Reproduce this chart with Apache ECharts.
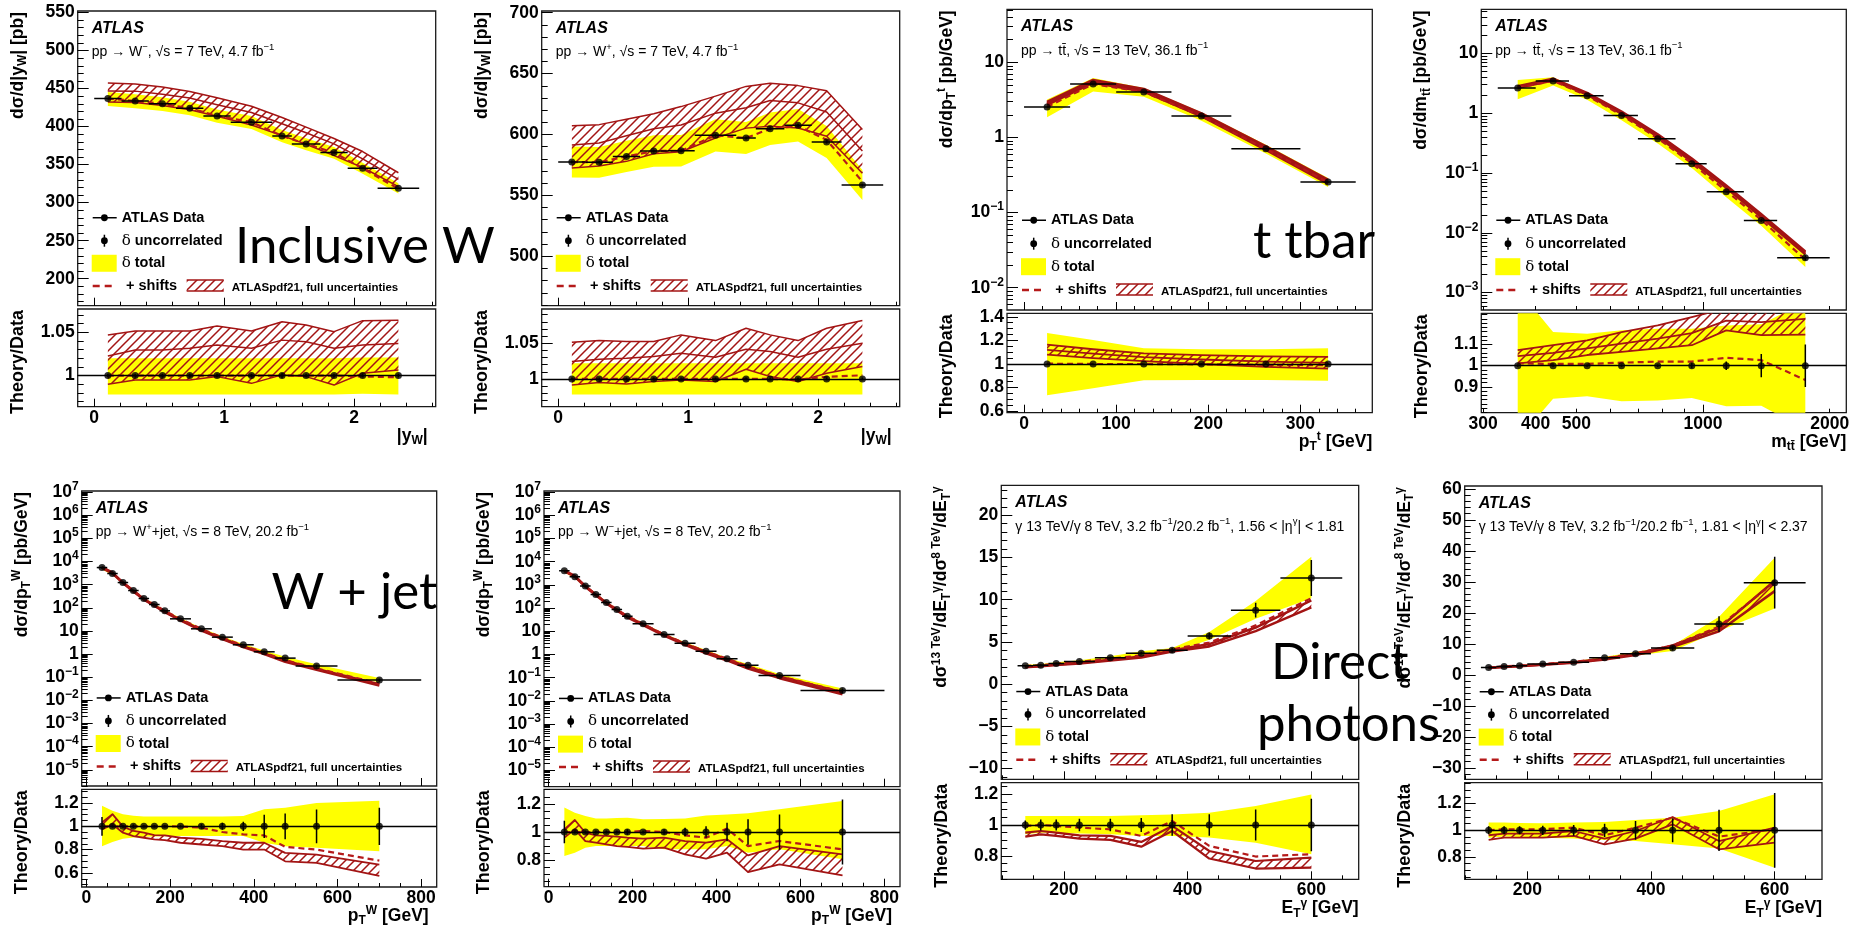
<!DOCTYPE html>
<html>
<head>
<meta charset="utf-8">
<title>ATLASpdf21 data/theory comparisons</title>
<script src="https://cdn.jsdelivr.net/npm/echarts@6.0.0/dist/echarts.min.js"></script>
<style>
  html, body { margin: 0; padding: 0; background: #fff; }
  #main { width: 1857px; height: 932px; }
</style>
</head>
<body>
<div id="main"></div>
<script>
// ---------------- data ----------------
// Inclusive W, |y_W| bins (same binning for W- and W+)
const wEdges = [0, 0.21, 0.42, 0.63, 0.84, 1.05, 1.37, 1.52, 1.74, 1.95, 2.18, 2.5];
const wX = [0.105, 0.315, 0.525, 0.735, 0.945, 1.21, 1.445, 1.63, 1.845, 2.065, 2.34];

// W-  (ratio arrays are theory/data or uncertainty relative to data)
const wmData = [436.8, 433.8, 429.9, 424.2, 414.1, 405.8, 387.8, 377.2, 365.8, 345.3, 318.9];
const wmErr = [0.002, 0.002, 0.002, 0.002, 0.002, 0.002, 0.003, 0.002, 0.002, 0.002, 0.002];
const wmTotLo = [0.978, 0.978, 0.978, 0.978, 0.978, 0.978, 0.978, 0.978, 0.978, 0.979, 0.978];
const wmTotHi = [1.020, 1.020, 1.020, 1.020, 1.020, 1.020, 1.020, 1.020, 1.020, 1.021, 1.021];
const wmThLo = [0.990, 0.995, 0.995, 0.995, 0.9988, 0.991, 1.0008, 0.9988, 0.989, 1.0027, 1.0065];
const wmThMid = [1.0227, 1.0296, 1.0296, 1.0315, 1.0354, 1.0315, 1.041, 1.039, 1.0315, 1.0354, 1.037];
const wmThHi = [1.047, 1.0515, 1.0515, 1.0515, 1.0573, 1.0515, 1.0623, 1.0585, 1.0508, 1.0635, 1.064];
const wmShift = [1.0, 1.0, 1.0, 1.0, 1.0, 1.0, 1.0, 1.0, 1.0, 0.999, 0.998];

// W+
const wpData = [577.4, 577.1, 582.0, 586.4, 586.7, 599.3, 597.1, 604.7, 607.5, 593.8, 558.5];
const wpErr = [0.002, 0.002, 0.002, 0.002, 0.002, 0.002, 0.002, 0.002, 0.002, 0.002, 0.002];
const wpTotLo = [0.978, 0.978, 0.978, 0.978, 0.978, 0.978, 0.978, 0.978, 0.978, 0.978, 0.978];
const wpTotHi = [1.022, 1.022, 1.022, 1.022, 1.022, 1.022, 1.022, 1.022, 1.022, 1.022, 1.022];
const wpThLo = [0.9916, 0.9949, 0.993, 0.9963, 0.9986, 0.9963, 1.0136, 1.0033, 0.9963, 1.008, 1.0173];
const wpThMid = [1.0243, 1.0276, 1.029, 1.0313, 1.036, 1.0304, 1.0416, 1.0383, 1.0304, 1.0416, 1.05];
const wpThHi = [1.0514, 1.0537, 1.0523, 1.0523, 1.0617, 1.0537, 1.071, 1.0617, 1.0537, 1.071, 1.0818];
const wpShift = [1, 1, 1, 1, 1, 1, 1, 1, 0.999, 1.003, 1.005];

// ttbar, top pT
const tpEdges = [0, 50, 100, 160, 225, 300, 360];
const tpX = [25, 75, 130, 192.5, 262.5, 330];
const tpData = [2.54, 5.14, 4.02, 1.93, 0.708, 0.255];
const tpErr = [0.005, 0.004, 0.004, 0.004, 0.005, 0.006];
const tpTotLo = [0.734, 0.794, 0.863, 0.865, 0.865, 0.857];
const tpTotHi = [1.263, 1.203, 1.134, 1.126, 1.126, 1.134];
const tpThLo = [1.08, 1.05, 1.025, 1.0, 0.975, 0.96];
const tpThMid = [1.12, 1.088, 1.058, 1.038, 1.02, 1.01];
const tpThHi = [1.165, 1.125, 1.09, 1.075, 1.065, 1.06];
const tpShift = [1.003, 1.0, 1.0, 0.997, 0.993, 0.99];

// ttbar, m_tt
const tmEdges = [325, 400, 480, 580, 700, 860, 1020, 1250, 1500, 2000];
const tmX = [362.5, 440, 530, 640, 780, 940, 1135, 1375, 1750];
const tmData = [2.63, 3.44, 1.95, 0.918, 0.373, 0.1426, 0.0485, 0.0161, 0.00382];
const tmErr = [0.005, 0.005, 0.005, 0.005, 0.006, 0.012, 0.02, 0.055, 0.1];
const tmTotLo = [0.65, 0.845, 0.856, 0.833, 0.836, 0.848, 0.809, 0.812, 0.70];
const tmTotHi = [1.36, 1.158, 1.15, 1.166, 1.174, 1.174, 1.189, 1.194, 1.30];
const tmThLo = [1.011, 1.026, 1.05, 1.065, 1.081, 1.096, 1.166, 1.143, 1.146];
const tmThMid = [1.045, 1.06, 1.081, 1.104, 1.127, 1.153, 1.212, 1.205, 1.22];
const tmThHi = [1.073, 1.096, 1.119, 1.158, 1.189, 1.228, 1.27, 1.27, 1.28];
const tmShift = [1.011, 1.008, 1.008, 1.014, 1.019, 1.019, 1.037, 1.026, 0.933];

// W + jet, pT^W bins (same for W+ and W-)
const wjEdges = [25, 50, 75, 100, 125, 150, 175, 200, 250, 300, 350, 400, 450, 500, 600, 800];
const wjX = [37.5, 62.5, 87.5, 112.5, 137.5, 162.5, 187.5, 225, 275, 325, 375, 425, 475, 550, 700];

const wjpData = [5510, 3034, 1240, 560, 253, 139, 74.3, 33.5, 12.4, 5.42, 2.53, 1.26, 0.672, 0.303, 0.0755];
const wjpErr = [0.08, 0.01, 0.01, 0.015, 0.01, 0.01, 0.01, 0.01, 0.02, 0.03, 0.04, 0.1, 0.11, 0.145, 0.16];
const wjpTotLo = [0.83, 0.865, 0.893, 0.905, 0.91, 0.913, 0.915, 0.916, 0.916, 0.916, 0.916, 0.859, 0.83, 0.816, 0.787];
const wjpTotHi = [1.176, 1.133, 1.104, 1.09, 1.084, 1.084, 1.084, 1.084, 1.084, 1.085, 1.089, 1.147, 1.16, 1.199, 1.219];
const wjpThLo = [0.974, 1.017, 0.945, 0.916, 0.902, 0.888, 0.882, 0.859, 0.844, 0.83, 0.801, 0.801, 0.70, 0.686, 0.576];
const wjpThHi = [1.032, 1.104, 0.997, 0.96, 0.945, 0.925, 0.922, 0.902, 0.893, 0.873, 0.859, 0.859, 0.772, 0.758, 0.671];
const wjpShift = [1, 1, 1, 1, 1, 1, 1, 0.998, 0.988, 0.951, 0.931, 0.922, 0.824, 0.80, 0.706];

const wjmData = [4090, 2253, 891, 389, 176, 87.5, 45.1, 21.1, 7.30, 3.08, 1.39, 0.65, 0.346, 0.124, 0.0279];
const wjmErr = [0.08, 0.01, 0.01, 0.01, 0.01, 0.01, 0.02, 0.01, 0.02, 0.03, 0.04, 0.065, 0.09, 0.125, 0.23];
const wjmTotLo = [0.83, 0.853, 0.889, 0.90, 0.90, 0.90, 0.90, 0.90, 0.877, 0.877, 0.877, 0.90, 0.853, 0.877, 0.806];
const wjmTotHi = [1.173, 1.137, 1.114, 1.095, 1.095, 1.10, 1.102, 1.09, 1.092, 1.095, 1.118, 1.125, 1.133, 1.161, 1.22];
const wjmThLo = [0.96, 1.019, 0.936, 0.924, 0.912, 0.90, 0.894, 0.882, 0.889, 0.841, 0.811, 0.853, 0.716, 0.77, 0.692];
const wjmThHi = [1.019, 1.085, 0.995, 0.976, 0.972, 0.967, 0.96, 0.953, 0.96, 0.936, 0.924, 0.948, 0.834, 0.90, 0.841];
const wjmShift = [1, 1, 1, 1, 1, 1, 1, 1.007, 1.0, 0.976, 0.96, 1.024, 0.90, 0.936, 0.877];

// Direct photons, E_T bins (same for both eta slices)
const gEdges = [125, 150, 175, 200, 250, 300, 350, 400, 470, 550, 650];
const gX = [137.5, 162.5, 187.5, 225, 275, 325, 375, 435, 510, 600];

const g1Data = [2.17, 2.25, 2.45, 2.68, 3.12, 3.67, 4.02, 5.72, 8.76, 12.58];
const g1Err = [0.03, 0.035, 0.035, 0.04, 0.04, 0.045, 0.07, 0.07, 0.1, 0.17];
const g1TotLo = [0.94, 0.95, 0.95, 0.945, 0.94, 0.929, 0.929, 0.918, 0.885, 0.81];
const g1TotHi = [1.058, 1.058, 1.058, 1.058, 1.058, 1.063, 1.069, 1.08, 1.123, 1.199];
const g1ThLo = [0.924, 0.939, 0.929, 0.911, 0.903, 0.859, 0.961, 0.782, 0.717, 0.723];
const g1ThHi = [0.95, 0.961, 0.95, 0.933, 0.929, 0.89, 0.994, 0.831, 0.766, 0.788];
const g1Shift = [0.994, 1.0, 0.994, 0.983, 0.972, 0.929, 1.026, 0.864, 0.795, 0.81];

const g2Data = [2.37, 2.69, 2.91, 3.45, 4.09, 5.49, 6.79, 8.62, 16.37, 29.73];
const g2Err = [0.03, 0.03, 0.03, 0.035, 0.04, 0.05, 0.07, 0.09, 0.155, 0.28];
const g2TotLo = [0.945, 0.953, 0.95, 0.945, 0.938, 0.928, 0.92, 0.895, 0.863, 0.72];
const g2TotHi = [1.058, 1.058, 1.055, 1.053, 1.058, 1.063, 1.078, 1.095, 1.145, 1.27];
const g2ThLo = [0.928, 0.945, 0.945, 0.945, 0.958, 0.895, 0.938, 1.045, 0.858, 0.908];
const g2ThHi = [0.963, 0.975, 0.975, 0.975, 0.995, 0.938, 0.995, 1.10, 0.92, 1.02];
const g2Shift = [1.0, 1.008, 1.008, 1.008, 1.02, 0.963, 1.02, 1.095, 0.953, 1.008];

// tick labels
const wXTicks = [0, 1, 2];
const wmYTicks = [200, 250, 300, 350, 400, 450, 500, 550];
const wpYTicks = [500, 550, 600, 650, 700];
const wRTicks = [1, 1.05];
const tpXTicks = [0, 100, 200, 300];
const ttYTicks = [0.001, 0.01, 0.1, 1, 10];
const tpRTicks = [0.6, 0.8, 1, 1.2, 1.4];
const tmXTicks = [1000];
const tmXLabels = [300, 400, 500, 1000, 2000];
const tmRTicks = [0.8, 0.9, 1, 1.1, 1.2];
const wjXTicks = [0, 200, 400, 600, 800];
const wjYTicks = [1e-5, 1e-4, 1e-3, 1e-2, 0.1, 1, 10, 100, 1e3, 1e4, 1e5, 1e6, 1e7];
const wjpRTicks = [0.6, 0.8, 1, 1.2];
const wjmRTicks = [0.8, 1, 1.2];
const gXTicks = [200, 400, 600];
const g1YTicks = [-10, -5, 0, 5, 10, 15, 20];
const g2YTicks = [-30, -20, -10, 0, 10, 20, 30, 40, 50, 60];
const gRTicks = [0.8, 1, 1.2];

// ---------------- styling / layout ----------------
const FONT = '"Liberation Sans", Arimo, Arial, Helvetica, sans-serif';
const RED = '#a31414';
const DASH = '#b51a1a';
const YELLOW = '#ffff00';
const LABEL_SIZE = 17.5;

// pixel frames of each pad: main plot + ratio plot
const layouts = [
  {left: 77.7, top: 11, width: 358, height: 294.7, rTop: 309, rHeight: 97.7},
  {left: 541.7, top: 11, width: 358, height: 294.7, rTop: 309, rHeight: 97.7},
  {left: 1007, top: 9.3, width: 365.3, height: 300.7, rTop: 313.3, rHeight: 99.4},
  {left: 1481.3, top: 9.3, width: 365, height: 300.7, rTop: 313.3, rHeight: 99.4},
  {left: 81.7, top: 491, width: 355, height: 295, rTop: 789.3, rHeight: 97.7},
  {left: 544, top: 491, width: 356, height: 295.7, rTop: 789.3, rHeight: 97.4},
  {left: 1001.3, top: 485.3, width: 357.4, height: 294, rTop: 782.7, rHeight: 96.6},
  {left: 1464.7, top: 486, width: 357.3, height: 293.3, rTop: 782.7, rHeight: 96.6}
];

const panels = [
  {x: wX, edges: wEdges, data: wmData, err: wmErr, totLo: wmTotLo, totHi: wmTotHi, thLo: wmThLo, thMid: wmThMid, thHi: wmThHi, shift: wmShift,
   xRange: [-0.127, 2.627], xLog: false, xTicks: wXTicks, xStep: 0.2,
   yRange: [164.5, 552], yLog: false, yTicks: wmYTicks, yStep: 10,
   rRange: [0.964, 1.077], rTicks: wRTicks, rStep: 0.01,
   yTitle: 'dσ/d|y{b|W}| [pb]', xTitle: '|y{b|W}|', sub: 'pp → W{s|−}, √s = 7 TeV, 4.7 fb{s|−1}',
   lwMain: 1.5, lwRatio: 1.5, xtDx: -8},
  {x: wX, edges: wEdges, data: wpData, err: wpErr, totLo: wpTotLo, totHi: wpTotHi, thLo: wpThLo, thMid: wpThMid, thHi: wpThHi, shift: wpShift,
   xRange: [-0.127, 2.627], xLog: false, xTicks: wXTicks, xStep: 0.2,
   yRange: [459.4, 701.4], yLog: false, yTicks: wpYTicks, yStep: 10,
   rRange: [0.961, 1.098], rTicks: wRTicks, rStep: 0.01,
   yTitle: 'dσ/d|y{b|W}| [pb]', xTitle: '|y{b|W}|', sub: 'pp → W{s|+}, √s = 7 TeV, 4.7 fb{s|−1}',
   lwMain: 1.5, lwRatio: 1.5, xtDx: -8},
  {x: tpX, edges: tpEdges, data: tpData, err: tpErr, totLo: tpTotLo, totHi: tpTotHi, thLo: tpThLo, thMid: tpThMid, thHi: tpThHi, shift: tpShift,
   xRange: [-18.5, 378], xLog: false, xTicks: tpXTicks, xStep: 20,
   yRange: [0.00505, 50.8], yLog: true, yTicks: ttYTicks,
   rRange: [0.587, 1.43], rTicks: tpRTicks, rStep: 0.05,
   yTitle: 'dσ/dp{b|T}{a|t} [pb/GeV]', xTitle: 'p{b|T}{a|t} [GeV]', sub: 'pp → tt̄, √s = 13 TeV, 36.1 fb{s|−1}',
   lwMain: 3, lwRatio: 1.8, xtDx: 0},
  {x: tmX, edges: tmEdges, data: tmData, err: tmErr, totLo: tmTotLo, totHi: tmTotHi, thLo: tmThLo, thMid: tmThMid, thHi: tmThHi, shift: tmShift,
   xRange: [297, 2190], xLog: true, xPlain: true, xTicks: tmXTicks, xLabels: tmXLabels,
   yRange: [0.000513, 54.5], yLog: true, yTicks: ttYTicks,
   rRange: [0.779, 1.246], rTicks: tmRTicks, rStep: 0.02,
   yTitle: 'dσ/dm{b|tt̄} [pb/GeV]', xTitle: 'm{b|tt̄} [GeV]', sub: 'pp → tt̄, √s = 13 TeV, 36.1 fb{s|−1}',
   lwMain: 2.5, lwRatio: 1.8, xtDx: 0},
  {x: wjX, edges: wjEdges, data: wjpData, err: wjpErr, totLo: wjpTotLo, totHi: wjpTotHi, thLo: wjpThLo, thMid: null, thHi: wjpThHi, shift: wjpShift,
   xRange: [-11, 837], xLog: false, xTicks: wjXTicks, xStep: 50,
   yRange: [2e-6, 1.12e7], yLog: true, yTicks: wjYTicks,
   rRange: [0.48, 1.317], rTicks: wjpRTicks, rStep: 0.05,
   yTitle: 'dσ/dp{b|T}{a|W} [pb/GeV]', xTitle: 'p{b|T}{a|W} [GeV]', sub: 'pp → W{s|+}+jet, √s = 8 TeV, 20.2 fb{s|−1}',
   lwMain: 2.5, lwRatio: 1.8, xtDx: -8},
  {x: wjX, edges: wjEdges, data: wjmData, err: wjmErr, totLo: wjmTotLo, totHi: wjmTotHi, thLo: wjmThLo, thMid: null, thHi: wjmThHi, shift: wjmShift,
   xRange: [-11, 837], xLog: false, xTicks: wjXTicks, xStep: 50,
   yRange: [2e-6, 1.12e7], yLog: true, yTicks: wjYTicks,
   rRange: [0.612, 1.303], rTicks: wjmRTicks, rStep: 0.05,
   yTitle: 'dσ/dp{b|T}{a|W} [pb/GeV]', xTitle: 'p{b|T}{a|W} [GeV]', sub: 'pp → W{s|−}+jet, √s = 8 TeV, 20.2 fb{s|−1}',
   lwMain: 2.5, lwRatio: 1.8, xtDx: -8},
  {x: gX, edges: gEdges, data: g1Data, err: g1Err, totLo: g1TotLo, totHi: g1TotHi, thLo: g1ThLo, thMid: null, thHi: g1ThHi, shift: g1Shift,
   xRange: [98.7, 676.6], xLog: false, xTicks: gXTicks, xStep: 50,
   yRange: [-11.26, 23.55], yLog: false, yTicks: g1YTicks, yStep: 1,
   rRange: [0.647, 1.275], rTicks: gRTicks, rStep: 0.05,
   yTitle: 'dσ{a|13 TeV}/dE{b|T}{a|γ}/dσ{a|8 TeV}/dE{b|T}{a|γ}', xTitle: 'E{b|T}{a|γ} [GeV]',
   sub: 'γ 13 TeV/γ 8 TeV, 3.2 fb{s|−1}/20.2 fb{s|−1}, 1.56 < |η{s|γ}| < 1.81',
   lwMain: 2.5, lwRatio: 2.2, xtDx: 0},
  {x: gX, edges: gEdges, data: g2Data, err: g2Err, totLo: g2TotLo, totHi: g2TotHi, thLo: g2ThLo, thMid: null, thHi: g2ThHi, shift: g2Shift,
   xRange: [98.8, 676.5], xLog: false, xTicks: gXTicks, xStep: 50,
   yRange: [-33.7, 60.9], yLog: false, yTicks: g2YTicks, yStep: 2,
   rRange: [0.633, 1.357], rTicks: gRTicks, rStep: 0.05,
   yTitle: 'dσ{a|13 TeV}/dE{b|T}{a|γ}/dσ{a|8 TeV}/dE{b|T}{a|γ}', xTitle: 'E{b|T}{a|γ} [GeV]',
   sub: 'γ 13 TeV/γ 8 TeV, 3.2 fb{s|−1}/20.2 fb{s|−1}, 1.81 < |η{s|γ}| < 2.37',
   lwMain: 2.5, lwRatio: 1.8, xtDx: 0}
];

// rich text pieces: a = superscript, b = subscript (bold), s = superscript (normal), g = greek delta
const RICH = {
  a: {fontSize: 12, lineHeight: 11, verticalAlign: 'top', fontWeight: 'bold', fontFamily: FONT},
  b: {fontSize: 12, lineHeight: 11, verticalAlign: 'bottom', fontWeight: 'bold', fontFamily: FONT},
  s: {fontSize: 9.5, lineHeight: 9, verticalAlign: 'top', fontWeight: 'normal', fontFamily: FONT},
  g: {fontSize: 15, fontWeight: 'normal', fontFamily: '"DejaVu Serif", "Liberation Serif", serif'}
};

// ROOT style diagonal hatching
function makeHatch(color, s, lw) {
  const c = document.createElement('canvas');
  c.width = s; c.height = s;
  const g = c.getContext('2d');
  g.strokeStyle = color; g.lineWidth = lw;
  g.beginPath();
  g.moveTo(0, s); g.lineTo(s, 0);
  g.moveTo(-s / 2, s / 2); g.lineTo(s / 2, -s / 2);
  g.moveTo(s / 2, s * 1.5); g.lineTo(s * 1.5, s / 2);
  g.stroke();
  return c;
}
const HATCH = {image: makeHatch(RED, 9, 1.5), repeat: 'repeat'};

function linMinor(r, step) {
  const out = [];
  for (let k = Math.ceil(r[0] / step - 1e-6); k * step <= r[1] + 1e-9; k++) out.push(Math.round(k * step * 1e6) / 1e6);
  return out;
}
function logMinor(r) {
  const out = [];
  for (let e = Math.floor(Math.log10(r[0])); e <= Math.ceil(Math.log10(r[1])); e++) {
    for (let m = 2; m <= 9; m++) {
      const v = m * Math.pow(10, e);
      if (v >= r[0] && v <= r[1]) out.push(v);
    }
  }
  return out;
}
function linFmt(v) {
  return v < 0 ? '−' + String(-v) : String(v);
}
function logFmt(v) {
  const e = Math.round(Math.log10(v));
  if (e === 0) return '1';
  if (e === 1) return '10';
  return '10{e|' + (e < 0 ? '−' + (-e) : e) + '}';
}

function axisPair(dim, grid, range, isLog, majors, labels, step, showLabels, plain) {
  const minors = isLog ? logMinor(range) : linMinor(range, step);
  const len = dim === 'y' ? [11, 6] : [8, 4];
  const base = {
    gridIndex: grid, type: isLog ? 'log' : 'value', min: range[0], max: range[1],
    position: dim === 'y' ? 'left' : 'bottom',
    axisLine: {show: false, onZero: false}, splitLine: {show: false}, minorTick: {show: false}
  };
  if (isLog) base.logBase = 10;
  const major = Object.assign({}, base, {
    axisTick: {show: true, inside: true, length: len[0], customValues: majors, lineStyle: {color: '#000', width: 1}},
    axisLabel: {
      show: showLabels, customValues: labels, margin: dim === 'y' ? 3 : 2,
      formatter: (isLog && !plain) ? logFmt : linFmt,
      color: '#000', fontFamily: FONT, fontWeight: 'bold', fontSize: LABEL_SIZE, lineHeight: dim === 'y' ? 23 : 18,
      rich: {e: {fontSize: 12, lineHeight: 10, verticalAlign: 'top', fontWeight: 'bold', fontFamily: FONT, color: '#000'}}
    }
  });
  const minor = Object.assign({}, base, {
    axisTick: {show: true, inside: true, length: len[1], customValues: minors, lineStyle: {color: '#000', width: 1}},
    axisLabel: {show: false}
  });
  return [major, minor];
}

// filled band between lo and hi, drawn once as one polygon
function band(xa, ya, xs, lo, hi) {
  return {
    type: 'custom', xAxisIndex: xa, yAxisIndex: ya, clip: true, silent: true, z: 2,
    data: xs.map((x, i) => [x, lo[i], hi[i]]),
    renderItem: (params, api) => {
      if (params.dataIndex !== 0) return null;
      const top = xs.map((x, i) => api.coord([x, hi[i]]));
      const bot = xs.map((x, i) => api.coord([x, lo[i]])).reverse();
      return {type: 'polygon', shape: {points: top.concat(bot)}, style: {fill: YELLOW, stroke: null}};
    }
  };
}

// hatched theory band with its edge lines
function hatchBand(xa, ya, xs, lo, mid, hi, lw) {
  return {
    type: 'custom', xAxisIndex: xa, yAxisIndex: ya, clip: true, silent: true, z: 3,
    data: xs.map((x, i) => [x, lo[i], hi[i]]),
    renderItem: (params, api) => {
      if (params.dataIndex !== 0) return null;
      const top = xs.map((x, i) => api.coord([x, hi[i]]));
      const bot = xs.map((x, i) => api.coord([x, lo[i]]));
      const edge = {stroke: RED, lineWidth: lw, fill: null, lineJoin: 'round'};
      const kids = [
        {type: 'polygon', shape: {points: top.concat(bot.slice().reverse())}, style: {fill: HATCH, stroke: null}},
        {type: 'polyline', shape: {points: top}, style: edge},
        {type: 'polyline', shape: {points: bot}, style: edge}
      ];
      if (mid) kids.push({type: 'polyline', shape: {points: xs.map((x, i) => api.coord([x, mid[i]]))}, style: edge});
      return {type: 'group', children: kids};
    }
  };
}

function shiftLine(xa, ya, xs, ys) {
  return {
    type: 'line', xAxisIndex: xa, yAxisIndex: ya, data: xs.map((x, i) => [x, ys[i]]),
    symbol: 'none', silent: true, clip: true, z: 4,
    lineStyle: {color: DASH, width: 2.2, type: [6, 4]}
  };
}

function errBars(xa, ya, xs, edges, ys, errs, horiz) {
  return {
    type: 'custom', xAxisIndex: xa, yAxisIndex: ya, silent: true, clip: true, z: 5,
    data: xs.map((x, i) => [x, ys[i], errs[i], edges[i], edges[i + 1]]),
    renderItem: (params, api) => {
      const x = api.value(0), y = api.value(1), e = api.value(2);
      const a = api.coord([x, y - e]), b = api.coord([x, y + e]);
      const st = {stroke: '#000', lineWidth: 1.5};
      const kids = [{type: 'line', shape: {x1: a[0], y1: a[1], x2: b[0], y2: b[1]}, style: st}];
      if (horiz) {
        const l = api.coord([api.value(3), y]), r = api.coord([api.value(4), y]);
        kids.push({type: 'line', shape: {x1: l[0], y1: l[1], x2: r[0], y2: r[1]}, style: st});
      }
      return {type: 'group', children: kids};
    }
  };
}

function dots(xa, ya, xs, ys, withOne) {
  const s = {
    type: 'scatter', xAxisIndex: xa, yAxisIndex: ya, data: xs.map((x, i) => [x, ys[i]]),
    symbol: 'circle', symbolSize: 7, itemStyle: {color: '#000'}, silent: true, z: 6
  };
  if (withOne) {
    s.markLine = {silent: true, symbol: ['none', 'none'], label: {show: false}, animation: false,
      lineStyle: {color: '#000', width: 1.3, type: 'solid'}, data: [{yAxis: 1}]};
  }
  return s;
}

function txt(x, y, text, o) {
  return {type: 'text', x: x, y: y, z: 50, silent: true,
    style: Object.assign({text: text, fill: '#000', fontFamily: FONT, fontSize: 14, fontWeight: 'bold',
      align: 'left', verticalAlign: 'middle', lineHeight: 20, rich: RICH}, o || {})};
}
function vtxt(x, y, text, size) {
  return {type: 'text', x: x, y: y, rotation: Math.PI / 2, z: 50, silent: true,
    style: {text: text, fill: '#000', fontFamily: FONT, fontSize: size || 17, fontWeight: 'bold',
      align: 'right', verticalAlign: 'middle', lineHeight: 22, rich: RICH}};
}
function gline(x1, y1, x2, y2, color, w, dash) {
  return {type: 'line', z: 50, silent: true, shape: {x1: x1, y1: y1, x2: x2, y2: y2},
    style: {stroke: color, lineWidth: w, lineDash: dash || null}};
}
function gdot(cx, cy) {
  return {type: 'circle', z: 51, silent: true, shape: {cx: cx, cy: cy, r: 3.4}, style: {fill: '#000'}};
}
function big(x, y, text) {
  return {type: 'text', x: x, y: y, z: 100, silent: true,
    style: {text: text, fill: '#000', fontFamily: 'Lato, "Open Sans", sans-serif', fontSize: 51,
      fontWeight: 'normal', align: 'left', verticalAlign: 'middle'}};
}

// ---------------- build ----------------
const grids = [], xAxes = [], yAxes = [], series = [], graphics = [];
const mul = (a, b) => a.map((v, i) => v * b[i]);

panels.forEach((p, k) => {
  const g = layouts[k];
  const frame = {show: true, borderColor: '#1a1a1a', borderWidth: 1.3, backgroundColor: 'transparent',
    containLabel: false, outerBoundsMode: 'none'};
  grids.push(Object.assign({left: g.left, top: g.top, width: g.width, height: g.height}, frame));
  grids.push(Object.assign({left: g.left, top: g.rTop, width: g.width, height: g.rHeight}, frame));

  const xl = p.xLabels || p.xTicks;
  xAxes.push(...axisPair('x', 2 * k, p.xRange, p.xLog, p.xTicks, xl, p.xStep, false, p.xPlain));
  xAxes.push(...axisPair('x', 2 * k + 1, p.xRange, p.xLog, p.xTicks, xl, p.xStep, true, p.xPlain));
  yAxes.push(...axisPair('y', 2 * k, p.yRange, p.yLog, p.yTicks, p.yTicks, p.yStep, true, false));
  yAxes.push(...axisPair('y', 2 * k + 1, p.rRange, false, p.rTicks, p.rTicks, p.rStep, true, false));

  const m = 4 * k, r = 4 * k + 2;
  const ones = p.x.map(() => 1);
  series.push(
    band(m, m, p.x, mul(p.data, p.totLo), mul(p.data, p.totHi)),
    hatchBand(m, m, p.x, mul(p.data, p.thLo), p.thMid ? mul(p.data, p.thMid) : null, mul(p.data, p.thHi), p.lwMain),
    shiftLine(m, m, p.x, mul(p.data, p.shift)),
    errBars(m, m, p.x, p.edges, p.data, mul(p.data, p.err), true),
    dots(m, m, p.x, p.data, false),
    band(r, r, p.x, p.totLo, p.totHi),
    hatchBand(r, r, p.x, p.thLo, p.thMid, p.thHi, p.lwRatio),
    shiftLine(r, r, p.x, p.shift),
    errBars(r, r, p.x, p.edges, ones, p.err, false),
    dots(r, r, p.x, ones, true)
  );

  const L = g.left, T = g.top, H = g.height, W = g.width;
  const rows = [0.7015, 0.7795, 0.856, 0.9335].map(f => T + f * H);
  graphics.push(
    txt(L + 14, T + 17.5, 'ATLAS', {fontSize: 16, fontStyle: 'italic'}),
    txt(L + 14, T + 41.5, p.sub, {fontSize: 14, fontWeight: 'normal'}),
    gline(L + 15, rows[0], L + 39, rows[0], '#000', 1.5),
    gdot(L + 26.7, rows[0]),
    txt(L + 44, rows[0], 'ATLAS Data', {fontSize: 14.5}),
    gline(L + 26.7, rows[1] - 6, L + 26.7, rows[1] + 6, '#000', 1.5),
    gdot(L + 26.7, rows[1]),
    txt(L + 44, rows[1], '{g|δ} uncorrelated', {fontSize: 14.5}),
    {type: 'rect', z: 50, silent: true, shape: {x: L + 14, y: rows[2] - 8.5, width: 25, height: 17}, style: {fill: YELLOW}},
    txt(L + 44, rows[2], '{g|δ} total', {fontSize: 14.5}),
    gline(L + 15, rows[3], L + 39, rows[3], DASH, 2.5, [7, 5]),
    txt(L + 48.3, rows[3], '+ shifts', {fontSize: 14.5}),
    {type: 'rect', z: 50, silent: true, shape: {x: L + 109, y: rows[3] - 6, width: 37, height: 11}, style: {fill: HATCH}},
    gline(L + 109, rows[3] - 6, L + 146, rows[3] - 6, RED, 1.5),
    gline(L + 109, rows[3] + 5, L + 146, rows[3] + 5, RED, 1.5),
    txt(L + 154, rows[3] + 1.5, 'ATLASpdf21, full uncertainties', {fontSize: 11.5}),
    vtxt(L - 60, T + 1, p.yTitle, 17.5),
    vtxt(L - 59.5, g.rTop + 1, 'Theory/Data', 18),
    txt(L + W + p.xtDx, g.rTop + g.rHeight + 29, p.xTitle, {fontSize: 17.5, align: 'right', lineHeight: 22})
  );
});

// section captions written over the figure
graphics.push(
  big(235, 247, 'Inclusive W'),
  big(1253, 242, 't tbar'),
  big(271.5, 593, 'W + jet'),
  big(1271, 663, 'Direct'),
  big(1257, 725, 'photons')
);

const chart = echarts.init(document.getElementById('main'));
chart.setOption({
  animation: false,
  backgroundColor: '#fff',
  grid: grids,
  xAxis: xAxes,
  yAxis: yAxes,
  series: series,
  graphic: {elements: graphics}
});
</script>
</body>
</html>
